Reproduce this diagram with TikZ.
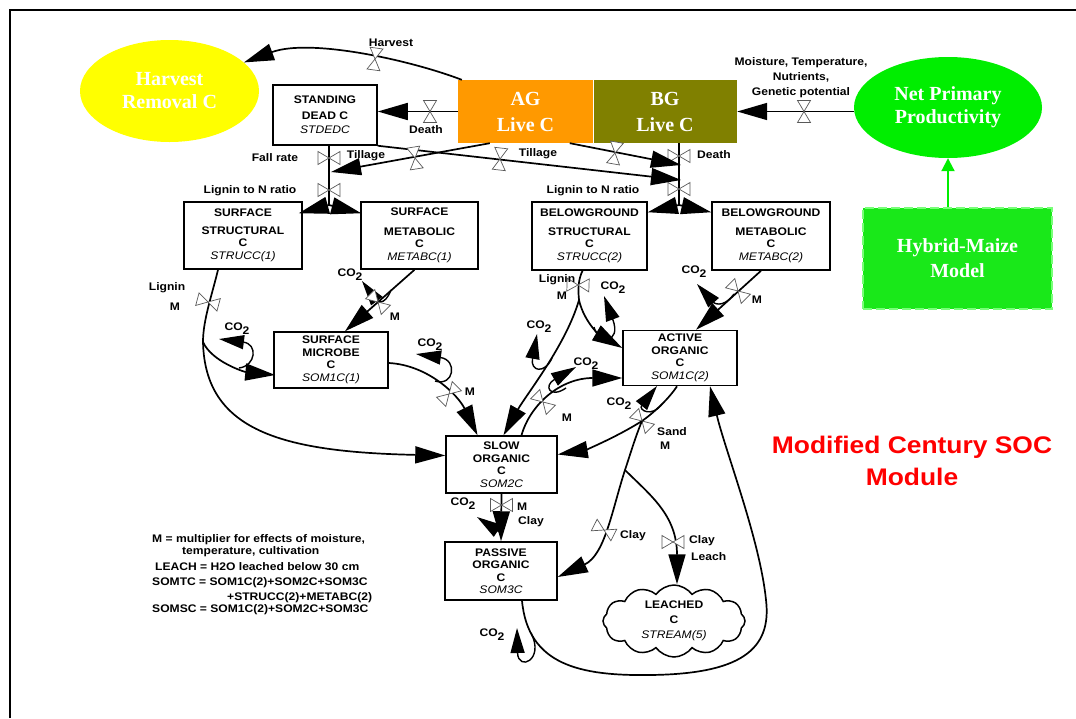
\documentclass[tikz,border=0pt]{standalone}
\usepackage{fontspec}
\setmainfont{Liberation Serif}
\newfontfamily\labfam[FakeStretch=1.1]{Liberation Sans}
\usetikzlibrary{arrows.meta,shapes.geometric,shapes.symbols,calc}
\definecolor{hvyellow}{RGB}{255,255,0}
\definecolor{agorange}{RGB}{255,153,0}
\definecolor{bgolive}{RGB}{128,128,0}
\definecolor{nppgreen}{RGB}{0,238,0}
\definecolor{hybgreen}{RGB}{25,232,25}
\definecolor{hybdash}{RGB}{120,255,120}
\definecolor{titlered}{RGB}{255,0,0}
\newcommand\mylab{\labfam\bfseries\fontsize{11}{12.5}\selectfont}
\newcommand\myit{\labfam\mdseries\itshape\fontsize{11}{12.5}\selectfont}
\newcommand\mybig{\rmfamily\bfseries\fontsize{20}{23}\selectfont}
\newcommand\cotwo{CO\raisebox{-4pt}{2}}
\begin{document}
\begin{tikzpicture}[x=1pt,y=-1pt,
  flow/.style={line width=1.7pt,-{Triangle[length=30pt,width=17pt]}},
  conn/.style={line width=1.7pt},
  co2/.style={line width=1.4pt,-{Triangle[length=25pt,width=14pt]}},
  box/.style={draw,line width=1.5pt,rectangle,inner sep=0pt,align=center,font=\mylab},
  lab/.style={font=\mylab,inner sep=0pt},
  big/.style={inner sep=0pt,font=\mybig,text=white,align=center},
  valve/.pic={\draw[black!65,fill=white,line width=0.7pt] (0,0)--(-6.5,-11)--(6.5,-11)--cycle (0,0)--(-6.5,11)--(6.5,11)--cycle;},
]
\useasboundingbox (0,0) rectangle (1076,718);
\draw[line width=2.5pt] (10,718) -- (10,10) -- (1076,10);

% ---------- nodes ----------
\node[big,ellipse,fill=hvyellow,minimum width=179pt,minimum height=102pt] (harv) at (169.5,91) {Harvest\\Removal C};
\node[box,minimum width=104pt,minimum height=60pt] (std) at (325,115) {STANDING\\[3pt]DEAD C\\[2pt]{\myit STDEDC}};
\node[big,fill=agorange,minimum width=135pt,minimum height=63pt] (ag) at (525.5,111.5) {AG\\[3pt]Live C};
\node[big,fill=bgolive,minimum width=144pt,minimum height=63pt] (bg) at (665,111.5) {BG\\[3pt]Live C};
\draw[white,line width=1pt] (ag.north east) -- (ag.south east);
\node[big,ellipse,fill=nppgreen,minimum width=188pt,minimum height=101pt] (npp) at (948,107.5) {Net Primary\\Productivity};
\node[big,draw=hybdash,dash pattern=on 9pt off 4pt,line width=2pt,fill=hybgreen,minimum width=189pt,minimum height=101pt] (hyb) at (957.5,258.5) {Hybrid-Maize\\[2pt]Model};

\node[box,minimum width=118pt,minimum height=67pt] (ss) at (243,235.5) {SURFACE\\[5pt]STRUCTURAL\\C\\{\myit STRUCC(1)}};
\node[box,minimum width=117pt,minimum height=67pt] (sm) at (419.5,235.5) {SURFACE\\[7pt]METABOLIC\\C\\{\myit METABC(1)}};
\node[box,minimum width=115pt,minimum height=68pt] (bs) at (589.5,236) {BELOWGROUND\\[6pt]STRUCTURAL\\C\\{\myit STRUCC(2)}};
\node[box,minimum width=118pt,minimum height=68pt] (bm) at (771,236) {BELOWGROUND\\[6pt]METABOLIC\\C\\{\myit METABC(2)}};
\node[box,minimum width=114pt,minimum height=56pt] (mic) at (331,360) {SURFACE\\MICROBE\\C\\{\myit SOM1C(1)}};
\node[box,minimum width=114pt,minimum height=55pt] (act) at (680,358) {ACTIVE\\ORGANIC\\C\\{\myit SOM1C(2)}};
\node[box,minimum width=111pt,minimum height=57pt] (slow) at (501.5,464.5) {SLOW\\ORGANIC\\C\\{\myit SOM2C}};
\node[box,minimum width=112pt,minimum height=58pt] (pass) at (501,571) {PASSIVE\\ORGANIC\\C\\{\myit SOM3C}};
\node[cloud,draw,line width=1.5pt,cloud puffs=12,cloud puff arc=110,aspect=2,minimum width=142pt,minimum height=72pt,inner sep=0pt,align=center,font=\mylab] (leach) at (674,621) {LEACHED\\[2pt]C\\[3pt]{\myit STREAM(5)}};

\node[font=\labfam\bfseries\fontsize{24}{32}\selectfont,text=titlered,align=center,inner sep=0pt] (title) at (912,461) {Modified Century SOC\\Module};

% ---------- top flows ----------
\draw[flow] ([xshift=4pt]ag.north west) .. controls (410,60) and (310,38) .. (harv.21);
\pic[rotate=-8] at (375,59) {valve};
\node[lab] (lharv) at (391,43) {Harvest};

\draw[flow] (ag.west) -- (ag.west -| std.east);
\pic at (430,111.5) {valve};
\node[lab] (ldeath1) at (426,130) {Death};

\draw[flow] (npp.west |- bg.east) -- (bg.east);
\pic at (804,111.5) {valve};
\node[lab,align=center] (lmoist) at (801,78) {Moisture, Temperature,\\[2.5pt]Nutrients,\\[2.5pt]Genetic potential};

\draw[line width=2pt,nppgreen,-{Triangle[length=13pt,width=13pt]}] (hyb.north -| npp.south) -- (npp.south);

% standing dead -> surface
\coordinate (sp1) at (329,205);
\coordinate (t1) at (331,172);
\draw[conn] ([xshift=4pt]std.south) -- (sp1);
\draw[flow] (sp1) -- ([shift={(-4,12)}]ss.north east);
\draw[flow] (sp1) -- ([shift={(1,12)}]sm.north west);
\pic[rotate=90] at (329,158) {valve};
\pic[rotate=90] at (329,190) {valve};
\node[lab] (lfall) at (275,158) {Fall rate};
\node[lab] (ltill1) at (366,156) {Tillage};
\node[lab] (llig1) at (250,191) {Lignin to N ratio};

% BG -> belowground
\coordinate (sp2) at (679,205);
\coordinate (t2) at (681,180);
\coordinate (t3) at (681,165);
\draw[conn] ([xshift=14pt]bg.south) -- (sp2);
\draw[flow] (sp2) -- ([shift={(0,11)}]bs.north east);
\draw[flow] (sp2) -- ([shift={(0,11)}]bm.north west);
\pic[rotate=90] at (679,156) {valve};
\pic[rotate=90] at (679,189) {valve};
\node[lab,anchor=west] (ldeath2) at (697,155) {Death};
\node[lab] (llig2) at (593,191) {Lignin to N ratio};

% tillage lines
\draw[flow] ([xshift=32pt]ag.south west) -- (t1);
\draw[flow] (std.south east) -- (t2);
\draw[flow] ([xshift=112pt]ag.south west) -- (t3);
\pic[rotate=9] at (415,158) {valve};
\pic[rotate=-6.5] at (500,159) {valve};
\pic[rotate=-10] at (615,153) {valve};
\node[lab] (ltill2) at (538,154) {Tillage};

% ---------- surface structural ----------
\coordinate (j1) at (203,342);
\draw[conn] ([xshift=-25pt]ss.south) .. controls (212,295) and (203,320) .. (j1);
\draw[flow] (j1) .. controls (205,430) and (280,452) .. ([shift={(0,-9)}]slow.west);
\draw[flow] (j1) .. controls (212,362) and (245,372) .. ([shift={(2,15)}]mic.west);
\draw[co2] (239,368) .. controls (256,366) and (258,344) .. (219,339);
\node[lab] (c1) at (237,329) {\cotwo};
\pic[rotate=75] at (208,302) {valve};
\node[lab] (lligm1a) at (167,288) {Lignin};
\node[lab] (lligm1b) at (175,307) {M};

% surface metabolic -> microbe
\draw[flow] ([xshift=-5pt]sm.south) -- ([xshift=14pt]mic.north);
\draw[co2] (391,290) .. controls (384,308) and (376,300) .. (362,281);
\node[lab] (c2) at (350,275) {\cotwo};
\pic[rotate=45] at (378,302) {valve};
\node[lab] (lm1) at (395,317) {M};

% microbe -> slow
\draw[flow] ([shift={(0,3)}]mic.east) .. controls (428,365) and (458,395) .. ([xshift=-24pt]slow.north);
\draw[co2] (435,381) .. controls (454,387) and (458,360) .. (416,354);
\node[lab] (c3) at (430,345) {\cotwo};
\pic[rotate=-45] at (449,394) {valve};
\node[lab] (lm2) at (470,392) {M};

% ---------- belowground structural ----------
\coordinate (j3) at (579,300);
\draw[conn] ([xshift=-7pt]bs.south) .. controls (578,280) and (578,290) .. (j3);
\draw[flow] (j3) .. controls (566,345) and (526,395) .. ([xshift=2pt]slow.north);
\draw[flow] (j3) .. controls (584,322) and (600,335) .. ([shift={(0,-10)}]act.west);
\draw[co2] (594,327) .. controls (598,344) and (622,344) .. (604,296);
\node[lab] (c4) at (613,288) {\cotwo};
\draw[co2] (552,358) .. controls (545,374) and (530,372) .. (537,334);
\node[lab] (c5) at (539,327) {\cotwo};
\pic[rotate=88] at (578,285) {valve};
\node[lab] (lligm2a) at (557,280) {Lignin};
\node[lab] (lligm2b) at (562,296) {M};

% belowground metabolic -> active
\draw[flow] ([xshift=-10pt]bm.south) -- ([xshift=16pt]act.north);
\draw[co2] (734,294) .. controls (722,310) and (713,302) .. (697,284);
\node[lab] (c6) at (694,272) {\cotwo};
\pic[rotate=45] at (738,291) {valve};
\node[lab] (lm3) at (757,300) {M};

% slow -> active
\draw[flow] ([xshift=20pt]slow.north) .. controls (530,405) and (560,378) .. ([shift={(0,20)}]act.west);
\draw[co2] (566,388) .. controls (550,399) and (543,386) .. (576,367);
\node[lab] (c7) at (586,364) {\cotwo};
\pic[rotate=45] at (543,402) {valve};
\node[lab] (lm4) at (567,418) {M};

% active -> slow / passive / leached
\coordinate (j4) at (642,421);
\coordinate (j5) at (625,470);
\draw[conn] ([xshift=-3pt]act.south) .. controls (668,400) and (652,414) .. (j4);
\draw[flow] (j4) .. controls (615,438) and (585,450) .. ([shift={(0,-10)}]slow.east);
\draw[co2] (662,404) .. controls (652,418) and (638,410) .. (657,386);
\node[lab] (c8) at (619,404) {\cotwo};
\pic[rotate=45] at (j4) {valve};
\node[lab,anchor=west] (lsand) at (657,432) {Sand};
\node[lab,anchor=west] (lm5) at (660,446) {M};

\draw[conn] (j4) .. controls (636,435) and (630,455) .. (j5);
\draw[flow] (j5) .. controls (612,510) and (605,555) .. ([shift={(0,6)}]pass.east);
\pic[rotate=63] at (604,530) {valve};
\node[lab,anchor=west] (lclay1) at (620,536) {Clay};
\draw[flow] (j5) .. controls (650,495) and (677,515) .. ([xshift=3pt]leach.north);
\pic[rotate=90] at (673,542) {valve};
\node[lab,anchor=west] (lclay2) at (689,541) {Clay};
\node[lab,anchor=west] (lleach) at (691,557) {Leach};

% slow -> passive
\draw[flow] (slow.south) -- (pass.north);
\draw[co2] (501,533) -- (477,517);
\node[lab] (c9) at (463,504) {\cotwo};
\pic[rotate=90] at (501.5,505) {valve};
\node[lab,anchor=west] (lm6) at (517,507) {M};
\node[lab,anchor=west] (lclay3) at (518,522) {Clay};

% passive -> active loop
\draw[flow] ([xshift=21pt]pass.south) .. controls (528,665) and (580,676) .. (650,675) .. controls (740,674) and (772,650) .. (766,600) .. controls (760,540) and (725,450) .. ([xshift=30pt]act.south);
\draw[co2] (531,633) .. controls (545,660) and (518,672) .. (517,628);
\node[lab] (c10) at (492,635) {\cotwo};

% ---------- legend ----------
\node[lab,anchor=west] (leg1) at (152,540) {M = multiplier for effects of moisture,};
\node[lab,anchor=west] (leg2) at (182,552) {temperature, cultivation};
\node[lab,anchor=west] (leg3) at (155,567) {LEACH = H2O leached below 30 cm};
\node[lab,anchor=west] (leg4) at (152,583) {SOMTC = SOM1C(2)+SOM2C+SOM3C};
\node[lab,anchor=west] (leg5) at (227,598) {+STRUCC(2)+METABC(2)};
\node[lab,anchor=west] (leg6) at (152,610) {SOMSC = SOM1C(2)+SOM2C+SOM3C};
\end{tikzpicture}
\end{document}
